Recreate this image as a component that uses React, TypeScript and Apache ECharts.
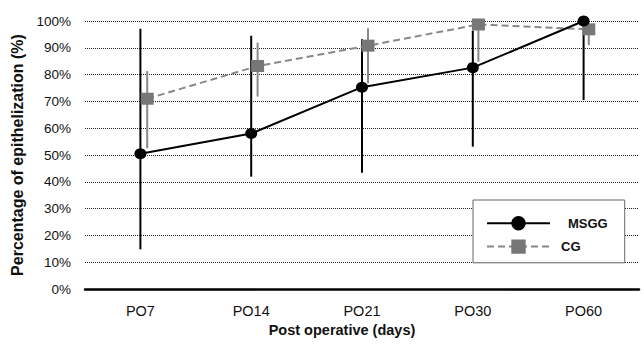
import React, { useEffect, useRef } from "react";
import * as echarts from "echarts";

const categories = ["PO7", "PO14", "PO21", "PO30", "PO60"];
const msggMean = [50.5, 58.0, 75.3, 82.6, 100];
const msggLow = [14.8, 41.9, 43.4, 53.1, 70.5];
const msggHigh = [97.1, 94.5, 93.2, 96.4, 100];
const cgMean = [71.0, 83.2, 90.8, 98.7, 96.9];
const cgLow = [52.5, 71.8, 76.8, 84.8, 91.0];
const cgHigh = [81.3, 91.9, 97.3, 99.0, 99.0];
const yTicks = [0, 10, 20, 30, 40, 50, 60, 70, 80, 90, 100];

const FONT = "'Liberation Sans', Arial, sans-serif";

function errorSeries(name: string, low: number[], high: number[], idx: number, color: string) {
  return {
    type: "custom",
    name: name + "-err",
    xAxisIndex: idx,
    yAxisIndex: idx,
    silent: true,
    data: categories.map((_, i) => [i, low[i], high[i]]),
    renderItem: (params: any, api: any) => {
      const p1 = api.coord([api.value(0), api.value(1)]);
      const p2 = api.coord([api.value(0), api.value(2)]);
      return {
        type: "line",
        shape: { x1: p1[0], y1: p1[1], x2: p2[0], y2: p2[1] },
        style: { stroke: color, lineWidth: 2 },
      };
    },
  };
}

export default function App() {
  const ref = useRef<HTMLDivElement>(null);
  useEffect(() => {
    document.body.style.margin = "0";
    const chart = echarts.init(ref.current!, undefined, { renderer: "svg" });
    const yMin = yTicks[0];
    const yMax = yTicks[yTicks.length - 1];
    chart.setOption({
      animation: false,
      backgroundColor: "#ffffff",
      textStyle: { fontFamily: FONT },
      grid: [
        { left: 85, right: 5, top: 21, bottom: 55 },
        { left: 92, right: -2, top: 21, bottom: 55 },
      ],
      xAxis: [
        {
          type: "category",
          gridIndex: 0,
          data: categories,
          axisLine: { lineStyle: { color: "#000", width: 2.5 } },
          axisTick: { show: false },
          axisLabel: { color: "#111", fontSize: 14.5, fontFamily: FONT, margin: 14 },
          name: "Post operative (days)",
          nameLocation: "middle",
          nameGap: 29,
          nameTextStyle: {
            color: "#111",
            fontSize: 14.5,
            fontWeight: "bold",
            fontFamily: FONT,
            padding: [0, 40, 0, 0],
          },
        },
        {
          type: "category",
          gridIndex: 1,
          data: categories,
          show: false,
        },
      ],
      yAxis: [
        {
          type: "value",
          gridIndex: 0,
          min: yMin,
          max: yMax,
          interval: 10,
          axisLine: { show: false },
          axisTick: { show: false },
          axisLabel: {
            color: "#111",
            fontSize: 13.5,
            fontFamily: FONT,
            margin: 14,
            formatter: "{value}%",
          },
          splitLine: { lineStyle: { color: "#222", type: "dotted", width: 1 } },
          name: "Percentage of epithelization (%)",
          nameLocation: "middle",
          nameGap: 54,
          nameTextStyle: {
            color: "#111",
            fontSize: 16,
            fontWeight: "bold",
            fontFamily: FONT,
          },
        },
        {
          type: "value",
          gridIndex: 1,
          min: yMin,
          max: yMax,
          interval: 10,
          show: false,
          splitLine: { show: false },
        },
      ],
      legend: {
        orient: "vertical",
        left: 473,
        top: 200,
        padding: [16, 17, 9, 13],
        itemGap: 9,
        itemWidth: 63,
        itemHeight: 18,
        backgroundColor: "#fff",
        borderColor: "#666",
        borderWidth: 1,
        borderRadius: 0,
        textStyle: { color: "#111", fontSize: 13, fontWeight: "bold", fontFamily: FONT },
        data: [
          { name: "MSGG", textStyle: { padding: [0, 0, 0, 13] } },
          { name: "CG", textStyle: { padding: [0, 0, 0, 6] } },
        ],
      },
      series: [
        errorSeries("MSGG", msggLow, msggHigh, 0, "#000"),
        errorSeries("CG", cgLow, cgHigh, 1, "#888"),
        {
          type: "line",
          name: "CG",
          xAxisIndex: 1,
          yAxisIndex: 1,
          data: cgMean,
          symbol: "rect",
          symbolSize: [13, 12],
          itemStyle: { color: "#777" },
          lineStyle: { color: "#888", width: 2, type: [7, 4] },
        },
        {
          type: "line",
          name: "MSGG",
          xAxisIndex: 0,
          yAxisIndex: 0,
          data: msggMean,
          symbol: "circle",
          symbolSize: [12, 11],
          itemStyle: { color: "#000" },
          lineStyle: { color: "#000", width: 2 },
        },
      ],
    });
    return () => chart.dispose();
  }, []);
  return <div ref={ref} style={{ width: 644, height: 344 }} />;
}
